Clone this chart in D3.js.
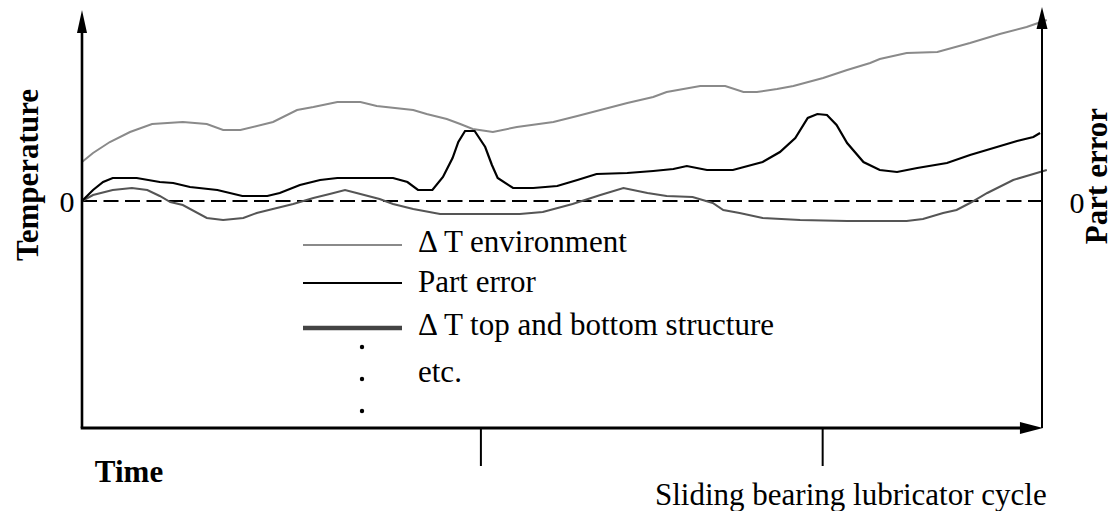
<!DOCTYPE html>
<html>
<head>
<meta charset="utf-8">
<script src="https://cdn.jsdelivr.net/npm/d3@7"></script>
<style>
    body { margin: 0; background: #fff; }
    text { font-family: "Liberation Serif", "Times New Roman", serif; fill: #000; }
</style>
</head>
<body>
<div id="chart"></div>
<script>

/*
    DATA (time 0..100 along the axis, temperature / error in arbitrary units, 0 = dashed line)
*/

// delta T environment
var envTime = [0, 1.15, 2.9, 5.0, 7.3, 10.5, 13.0, 14.7, 16.5, 19.9, 22.4, 24.1, 26.6, 29.0, 30.7, 34.5, 35.9,
    38.0, 39.4, 40.7, 42.8, 45.3, 49.1, 51.6, 54.0, 56.8, 59.5, 60.9, 64.4, 67.0, 68.9, 70.3, 72.4, 74.1,
    77.2, 79.7, 82.1, 83.1, 85.9, 89.1, 92.5, 95.6, 98.4, 100.5];
var envTemp = [3.9, 4.8, 5.9, 6.9, 7.7, 7.9, 7.7, 7.1, 7.1, 7.9, 9.1, 9.4, 9.9, 9.9, 9.5, 9.1, 8.7,
    8.2, 7.7, 7.2, 6.9, 7.4, 7.9, 8.5, 9.1, 9.8, 10.4, 10.9, 11.5, 11.5, 10.9, 10.9, 11.2, 11.5,
    12.3, 13.1, 13.8, 14.2, 14.8, 14.9, 15.8, 16.7, 17.4, 18.1];

// part error
var errTime = [0, 1.15, 2.2, 3.2, 5.7, 8.1, 9.5, 11.25, 14.1, 16.7, 19.3, 20.6, 22.7, 24.8, 26.6, 32.4, 33.9,
    35.0, 36.5, 37.6, 38.6, 39.2, 39.9, 40.9, 42.0, 42.7, 43.3, 44.9, 47.0, 49.5, 51.6, 53.6, 56.8, 59.5,
    61.6, 63.0, 65.1, 67.8, 70.9, 72.7, 74.3, 75.6, 76.6, 77.6, 78.6, 79.7, 81.4, 83.1, 84.9, 87.0, 90.1,
    92.5, 95.3, 97.4, 99.1, 99.8];
var errValue = [0, 1.1, 1.9, 2.3, 2.3, 1.9, 1.8, 1.4, 1.1, 0.5, 0.5, 0.8, 1.6, 2.1, 2.3, 2.3, 1.9,
    1.1, 1.1, 2.4, 4.3, 5.9, 7.0, 7.0, 5.4, 3.6, 2.3, 1.3, 1.3, 1.5, 2.1, 2.7, 2.8, 3.0,
    3.2, 3.5, 3.1, 3.1, 3.9, 4.9, 6.3, 8.3, 8.7, 8.6, 7.6, 5.8, 3.9, 3.1, 2.9, 3.3, 3.8,
    4.6, 5.4, 6.0, 6.4, 6.8];

// delta T top and bottom structure
var structTime = [0, 1.15, 3.2, 5.2, 6.8, 8.1, 9.2, 10.5, 13.0, 14.7, 16.8, 18.2, 20.3, 22.0, 24.1, 25.8, 27.4,
    28.6, 31.0, 32.4, 34.5, 37.3, 45.6, 48.0, 51.1, 54.0, 56.4, 58.9, 60.9, 63.6, 65.7, 66.8, 68.5, 70.9,
    74.8, 79.7, 85.9, 87.6, 89.7, 91.1, 92.5, 94.3, 97.0, 98.75, 100.5];
var structTemp = [0, 0.6, 1.1, 1.3, 1.1, 0.5, -0.1, -0.4, -1.7, -1.9, -1.7, -1.2, -0.7, -0.3, 0.3, 0.7, 1.1,
    0.8, 0.2, -0.3, -0.8, -1.3, -1.3, -1.1, -0.3, 0.6, 1.3, 0.8, 0.5, 0.4, -0.2, -0.9, -1.2, -1.7,
    -1.9, -2.0, -2.0, -1.8, -1.2, -0.9, -0.2, 0.8, 2.1, 2.6, 3.1];

// lubricator cycle marks on the time axis
var cycleTicks = [41.5, 77.1];

var legendLabels = ["\u0394 T environment", "Part error", "\u0394 T top and bottom structure", "etc."];


// define margins for SVG drawing area
var margin = {top: 7, right: 71, bottom: 83, left: 82};
var width = 1113 - margin.left - margin.right,
    height = 511 - margin.top - margin.bottom;

var svg = d3.select("#chart").append("svg")
    .attr("width", width + margin.left + margin.right)
    .attr("height", height + margin.top + margin.bottom)
    .append("g")
    .attr("transform", "translate(" + margin.left + "," + margin.top + ")");

// scales
var x = d3.scaleLinear().domain([0, 100]).range([0, width]);
var y = d3.scaleLinear().domain([-22.7, 19.4]).range([height, 0]);

var line = d3.line()
    .x(function(d) { return x(d[0]); })
    .y(function(d) { return y(d[1]); });

// dashed zero line
svg.append("line")
    .attr("x1", x(0)).attr("x2", x(100))
    .attr("y1", y(0)).attr("y2", y(0))
    .attr("stroke", "#000")
    .attr("stroke-width", 2)
    .attr("stroke-dasharray", "15,6.5");

// curves
svg.append("path")
    .datum(d3.zip(envTime, envTemp))
    .attr("d", line)
    .attr("fill", "none")
    .attr("stroke", "#8a8a8a")
    .attr("stroke-width", 2);

svg.append("path")
    .datum(d3.zip(structTime, structTemp))
    .attr("d", line)
    .attr("fill", "none")
    .attr("stroke", "#555")
    .attr("stroke-width", 2);

svg.append("path")
    .datum(d3.zip(errTime, errValue))
    .attr("d", line)
    .attr("fill", "none")
    .attr("stroke", "#000")
    .attr("stroke-width", 2.2);

// axes
var y0 = y.domain()[0];

svg.append("line")
    .attr("x1", x(0)).attr("x2", x(0))
    .attr("y1", y(y0)).attr("y2", y(18.2))
    .attr("stroke", "#000").attr("stroke-width", 2.6);
svg.append("path")
    .attr("d", "M" + x(0) + "," + y(19.1) + "L" + (x(0) - 5) + "," + y(16.8) + "L" + (x(0) + 5) + "," + y(16.8) + "Z")
    .attr("fill", "#000");

svg.append("line")
    .attr("x1", x(100)).attr("x2", x(100))
    .attr("y1", y(y0)).attr("y2", y(18.4))
    .attr("stroke", "#000").attr("stroke-width", 2);
svg.append("path")
    .attr("d", "M" + x(100) + "," + y(19.4) + "L" + (x(100) - 5.5) + "," + y(17.2) + "L" + (x(100) + 5.5) + "," + y(17.2) + "Z")
    .attr("fill", "#000");

svg.append("line")
    .attr("x1", x(0) - 1.3).attr("x2", x(98.5))
    .attr("y1", y(y0)).attr("y2", y(y0))
    .attr("stroke", "#000").attr("stroke-width", 2.8);
svg.append("path")
    .attr("d", "M" + (x(100) + 1) + "," + y(y0) + "L" + x(97.7) + "," + (y(y0) - 6) + "L" + x(97.7) + "," + (y(y0) + 6) + "Z")
    .attr("fill", "#000");

// lubricator cycle ticks
var tickAxis = svg.append("g")
    .attr("transform", "translate(0," + height + ")")
    .call(d3.axisBottom(x).tickValues(cycleTicks).tickSize(38).tickFormat(""));
tickAxis.select(".domain").remove();
tickAxis.selectAll(".tick line").attr("stroke", "#000").attr("stroke-width", 2);

// zero labels
svg.append("text")
    .attr("x", x(0) - 15).attr("y", y(0) + 11)
    .attr("text-anchor", "middle")
    .style("font-size", "30px")
    .text("0");
svg.append("text")
    .attr("x", x(100) + 35).attr("y", y(0) + 12)
    .attr("text-anchor", "middle")
    .style("font-size", "30px")
    .text("0");

// axis titles
svg.append("text")
    .attr("transform", "translate(" + (-44) + "," + (y(2.6)) + ") rotate(-90)")
    .attr("text-anchor", "middle")
    .style("font-size", "31px")
    .style("font-weight", "bold")
    .text("Temperature");
svg.append("text")
    .attr("transform", "translate(" + (width + 65) + "," + (y(2.5)) + ") rotate(-90)")
    .attr("text-anchor", "middle")
    .style("font-size", "31px")
    .style("font-weight", "bold")
    .text("Part error");
svg.append("text")
    .attr("x", 47).attr("y", height + 54)
    .attr("text-anchor", "middle")
    .style("font-size", "31px")
    .style("font-weight", "bold")
    .text("Time");
svg.append("text")
    .attr("x", 573).attr("y", height + 77)
    .style("font-size", "31px")
    .text("Sliding bearing lubricator cycle");

// legend
var legend = svg.append("g").attr("transform", "translate(221,238)");
var legendStyles = [
    {color: "#8a8a8a", w: 2, y: 0, dy: 7},
    {color: "#000", w: 2.2, y: 38, dy: 9},
    {color: "#444", w: 4.5, y: 83, dy: 7}
];
legendStyles.forEach(function(s, i) {
    legend.append("line")
        .attr("x1", 0).attr("x2", 99)
        .attr("y1", s.y).attr("y2", s.y)
        .attr("stroke", s.color)
        .attr("stroke-width", s.w);
    legend.append("text")
        .attr("x", 115).attr("y", s.y + s.dy)
        .style("font-size", "31px")
        .text(legendLabels[i]);
});
[102, 134, 166].forEach(function(dy) {
    legend.append("circle")
        .attr("cx", 59).attr("cy", dy)
        .attr("r", 2.2)
        .attr("fill", "#000");
});
legend.append("text")
    .attr("x", 115).attr("y", 137)
    .style("font-size", "31px")
    .text(legendLabels[3]);

</script>
</body>
</html>
